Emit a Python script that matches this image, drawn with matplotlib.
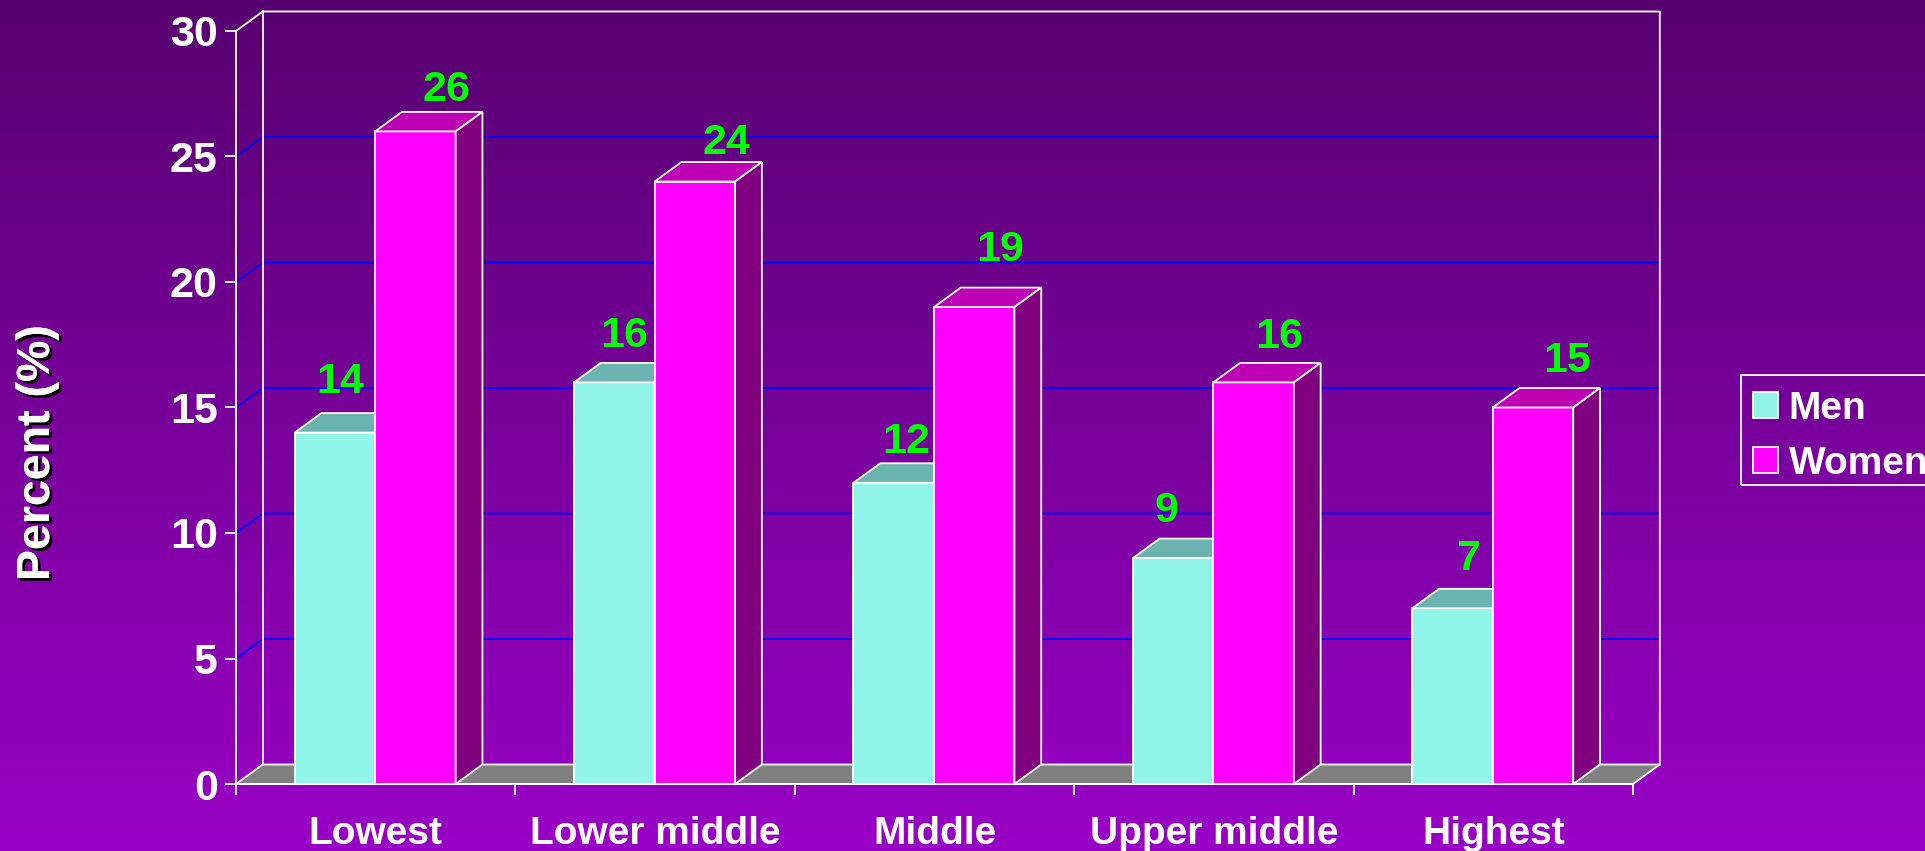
import numpy as np
import matplotlib
matplotlib.use("Agg")
import matplotlib.pyplot as plt
from matplotlib.patches import Polygon, Rectangle
import matplotlib.patheffects as pe

categories = ["Lowest", "Lower middle", "Middle", "Upper middle", "Highest"]
men = [14, 16, 12, 9, 7]
women = [26, 24, 19, 16, 15]
y_ticks = [0, 5, 10, 15, 20, 25, 30]
series_names = ["Men", "Women"]

# label nudges (pixels) relative to the bar's top centre
men_label_dx = [5, 9, 12, -7, 15]
men_label_dy = [51, 46, 41, 47, 49]
women_label_dx = [30, 31, 25, 25, 34]
women_label_dy = [41, 39, 57, 45, 46]

W, H = 1925, 851
L, R, T, B = 236, 1633, 31, 784
DEPTH_X_PX, DEPTH_Y_PX = 26.8, 19.5

plt.rcParams["font.family"] = ["Liberation Sans", "DejaVu Sans"]
plt.rcParams["font.weight"] = "bold"

fig = plt.figure(figsize=(W / 100, H / 100), dpi=100)

bg = fig.add_axes([0, 0, 1, 1], zorder=0)
grad = np.linspace(0, 1, 256).reshape(-1, 1)
top_c = np.array([88, 0, 112]) / 255
bot_c = np.array([153, 0, 198]) / 255
bg.imshow(top_c + (bot_c - top_c) * grad[..., None], aspect="auto")
bg.axis("off")

ax = fig.add_axes([L / W, 1 - B / H, (R - L) / W, (B - T) / H], zorder=1)
ax.patch.set_alpha(0)
ax.set_xlim(0, 5)
ax.set_ylim(0, 30)

dx = DEPTH_X_PX / ((R - L) / 5)
dy = DEPTH_Y_PX / ((B - T) / 30)
WHITE = "white"
EDGE = 1.3

# floor
ax.add_patch(Polygon([(0, 0), (5, 0), (5 + dx, dy), (dx, dy)], closed=True, fc="#808080",
                     ec=WHITE, lw=EDGE, clip_on=False, zorder=1.5))
# gridlines on side wall and back wall
for t in y_ticks[1:-1]:
    ax.plot([0, dx, 5 + dx], [t, t + dy, t + dy], color="#0000FF", lw=EDGE, clip_on=False, zorder=1)
# wall outlines
ax.plot([0, dx, 5 + dx, 5 + dx], [30, 30 + dy, 30 + dy, dy], color=WHITE, lw=EDGE, clip_on=False, zorder=1.6)
ax.plot([dx, dx], [dy, 30 + dy], color=WHITE, lw=EDGE, clip_on=False, zorder=1.6)

bar_w = 80.5 / ((R - L) / 5)
x = np.arange(len(categories)) + 0.5
bar_x = x - 0.002


def bars3d(xs_left, values, front, top, side, z):
    rects = ax.bar(xs_left, values, width=bar_w, align="edge", color=front,
                   edgecolor=WHITE, linewidth=EDGE, zorder=z, clip_on=False)
    for xl, v in zip(xs_left, values):
        xr = xl + bar_w
        ax.add_patch(Polygon([(xl, v), (xr, v), (xr + dx, v + dy), (xl + dx, v + dy)], closed=True,
                             fc=top, ec=WHITE, lw=EDGE, clip_on=False, zorder=z))
        ax.add_patch(Polygon([(xr, 0), (xr, v), (xr + dx, v + dy), (xr + dx, dy)], closed=True,
                             fc=side, ec=WHITE, lw=EDGE, clip_on=False, zorder=z))
    return rects


h_men = bars3d(bar_x - bar_w, men, "#90F5E8", "#6BB3B0", "#6BB3B0", 3)
h_women = bars3d(bar_x, women, "#FF00FF", "#BE00B4", "#800080", 4)

for i in range(len(categories)):
    ax.annotate(str(men[i]), (x[i] - bar_w / 2, men[i]), xytext=(men_label_dx[i], men_label_dy[i]),
                textcoords="offset pixels", ha="center", va="center", color="#00FF00",
                fontsize=31, fontweight="bold", zorder=6, annotation_clip=False)
    ax.annotate(str(women[i]), (x[i] + bar_w / 2, women[i]), xytext=(women_label_dx[i], women_label_dy[i]),
                textcoords="offset pixels", ha="center", va="center", color="#00FF00",
                fontsize=31, fontweight="bold", zorder=6, annotation_clip=False)

for s in ("top", "right"):
    ax.spines[s].set_visible(False)
for s in ("left", "bottom"):
    ax.spines[s].set_color(WHITE)
    ax.spines[s].set_linewidth(EDGE)
    ax.spines[s].set_zorder(5)

ax.set_yticks(y_ticks)
ax.set_yticklabels([str(t) for t in y_ticks], fontsize=31, fontweight="bold", color=WHITE)
ax.tick_params(axis="y", length=8, width=EDGE, color=WHITE, pad=5.2)
ax.set_xticks(np.arange(len(categories) + 1))
ax.set_xticklabels([])
ax.tick_params(axis="x", which="major", length=8, width=EDGE, color=WHITE)
ax.set_xticks(x, minor=True)
ax.set_xticklabels(categories, minor=True, fontsize=28, fontweight="bold", color=WHITE)
ax.tick_params(axis="x", which="minor", length=0, pad=23)

ax.set_ylabel("Percent (%)", fontsize=33.5, fontweight="bold", color=WHITE, va="center",
              path_effects=[pe.withSimplePatchShadow(offset=(2, -2), shadow_rgbFace="black", alpha=1),
                            pe.Normal()])
ax.yaxis.set_label_coords((37 - L) / (R - L), (B - 453) / (B - T))

leg = ax.legend([h_men[0], h_women[0]], series_names, loc="upper left",
                bbox_to_anchor=(1741 / W, 1 - 379 / H), bbox_transform=fig.transFigure,
                fontsize=28, frameon=False, handlelength=0.65, handleheight=0.65,
                handletextpad=0.28, labelspacing=0.5, borderpad=0.3, borderaxespad=0)
for t in leg.get_texts():
    t.set_color(WHITE)
    t.set_fontweight("bold")
fig.add_artist(Rectangle((1741 / W, 1 - 485 / H), 200 / W, 110 / H, transform=fig.transFigure,
                         fc="none", ec=WHITE, lw=EDGE, zorder=5))

fig.savefig("out.png", dpi=100)
